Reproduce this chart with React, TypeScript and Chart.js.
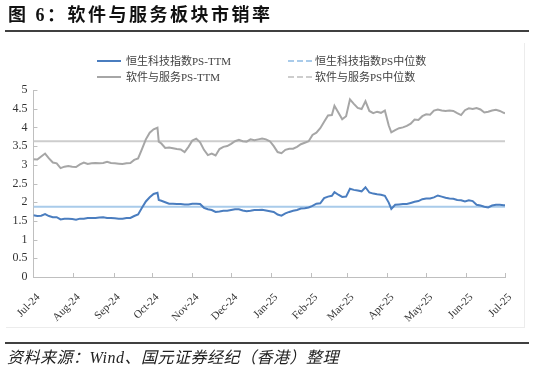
import React, { useEffect, useRef } from "react";
import { Chart, registerables } from "chart.js";

Chart.register(...registerables);

const dates: string[] = [
  "2024-07-01","2024-07-04","2024-07-07","2024-07-10","2024-07-13","2024-07-16","2024-07-19","2024-07-22","2024-07-25","2024-07-28",
  "2024-07-31","2024-08-03","2024-08-06","2024-08-09","2024-08-12","2024-08-15","2024-08-18","2024-08-21","2024-08-24","2024-08-27",
  "2024-08-30","2024-09-02","2024-09-05","2024-09-08","2024-09-11","2024-09-14","2024-09-17","2024-09-20","2024-09-23","2024-09-26",
  "2024-09-29","2024-10-02","2024-10-05","2024-10-06","2024-10-08","2024-10-11","2024-10-14","2024-10-17","2024-10-20","2024-10-23",
  "2024-10-26","2024-10-29","2024-11-01","2024-11-04","2024-11-07","2024-11-10","2024-11-13","2024-11-16","2024-11-19","2024-11-22",
  "2024-11-25","2024-11-28","2024-12-01","2024-12-04","2024-12-07","2024-12-10","2024-12-13","2024-12-16","2024-12-19","2024-12-22",
  "2024-12-25","2024-12-28","2024-12-31","2025-01-03","2025-01-06","2025-01-09","2025-01-12","2025-01-15","2025-01-18","2025-01-21",
  "2025-01-24","2025-01-27","2025-01-30","2025-02-02","2025-02-05","2025-02-08","2025-02-11","2025-02-14","2025-02-17","2025-02-19",
  "2025-02-22","2025-02-25","2025-02-28","2025-03-03","2025-03-06","2025-03-09","2025-03-12","2025-03-15","2025-03-18","2025-03-21",
  "2025-03-24","2025-03-27","2025-03-30","2025-04-02","2025-04-04","2025-04-07","2025-04-10","2025-04-13","2025-04-16","2025-04-19",
  "2025-04-22","2025-04-25","2025-04-28","2025-05-01","2025-05-04","2025-05-07","2025-05-10","2025-05-13","2025-05-16","2025-05-19",
  "2025-05-22","2025-05-25","2025-05-28","2025-05-31","2025-06-03","2025-06-06","2025-06-09","2025-06-12","2025-06-15","2025-06-18",
  "2025-06-21","2025-06-24","2025-06-27","2025-06-30","2025-07-01"
];

// 恒生科技指数PS-TTM
const hsTechPS: number[] = [
  1.65,1.63,1.64,1.68,1.63,1.60,1.60,1.54,1.56,1.56,
  1.55,1.53,1.56,1.56,1.58,1.58,1.58,1.59,1.60,1.58,
  1.58,1.57,1.56,1.56,1.58,1.58,1.63,1.67,1.85,2.02,
  2.13,2.22,2.25,2.06,2.04,2.00,1.96,1.96,1.95,1.95,
  1.94,1.94,1.96,1.96,1.95,1.85,1.81,1.79,1.74,1.75,
  1.77,1.77,1.79,1.81,1.81,1.78,1.76,1.77,1.79,1.79,
  1.80,1.78,1.76,1.74,1.67,1.64,1.70,1.74,1.77,1.79,
  1.83,1.84,1.86,1.90,1.96,1.97,2.11,2.15,2.17,2.27,
  2.20,2.14,2.15,2.36,2.33,2.31,2.29,2.40,2.26,2.23,
  2.21,2.20,2.17,1.99,1.82,1.93,1.94,1.95,1.95,1.98,
  2.01,2.03,2.08,2.10,2.10,2.13,2.18,2.15,2.12,2.10,
  2.09,2.06,2.05,2.02,2.05,2.03,1.93,1.91,1.88,1.86,
  1.91,1.93,1.93,1.92,1.92
];

// 软件与服务PS-TTM
const softwarePS: number[] = [
  3.15,3.14,3.22,3.30,3.17,3.06,3.04,2.91,2.95,2.97,
  2.95,2.94,3.01,3.06,3.02,3.04,3.05,3.04,3.05,3.08,
  3.05,3.04,3.03,3.02,3.04,3.05,3.13,3.17,3.42,3.68,
  3.86,3.95,3.99,3.62,3.57,3.45,3.46,3.44,3.42,3.41,
  3.34,3.48,3.65,3.70,3.60,3.40,3.26,3.30,3.25,3.42,
  3.48,3.50,3.56,3.63,3.67,3.63,3.62,3.68,3.66,3.68,
  3.70,3.68,3.63,3.50,3.34,3.31,3.40,3.43,3.43,3.48,
  3.55,3.59,3.63,3.80,3.86,3.98,4.15,4.32,4.33,4.58,
  4.40,4.22,4.30,4.75,4.63,4.52,4.49,4.70,4.44,4.38,
  4.42,4.39,4.45,4.05,3.87,3.93,3.98,4.00,4.04,4.10,
  4.21,4.20,4.30,4.35,4.34,4.45,4.48,4.45,4.44,4.45,
  4.44,4.38,4.33,4.46,4.51,4.49,4.52,4.48,4.40,4.42,
  4.45,4.47,4.44,4.39,4.38
];

const hsTechMedian = 1.88;
const softwareMedian = 3.63;

const monthTicks: string[] = [
  "2024-07-01","2024-08-01","2024-09-01","2024-10-01","2024-11-01","2024-12-01","2025-01-01",
  "2025-02-01","2025-03-01","2025-04-01","2025-05-01","2025-06-01","2025-07-01"
];
const monthLabels: string[] = [
  "Jul-24","Aug-24","Sep-24","Oct-24","Nov-24","Dec-24","Jan-25",
  "Feb-25","Mar-25","Apr-25","May-25","Jun-25","Jul-25"
];

const seriesNames: string[] = ["恒生科技指数PS-TTM", "软件与服务PS-TTM", "恒生科技指数PS中位数", "软件与服务PS中位数"];

const BLUE = "#4a7dbf";
const GRAY = "#a6a6a6";
const LIGHT_BLUE = "#a9cbea";
const LIGHT_GRAY = "#cdcdcd";
const AXIS = "#bfbfbf";

const SERIF = "'Liberation Serif', 'Noto Sans CJK SC', serif";

function dayIndex(s: string): number {
  const [y, m, d] = s.split("-").map(Number);
  return Math.round((Date.UTC(y, m - 1, d) - Date.UTC(2024, 6, 1)) / 86400000);
}

const insideTicks = {
  id: "insideTicks",
  afterDraw(chart: any) {
    const { ctx, scales } = chart;
    const xs = scales.x;
    const ys = scales.y;
    ctx.save();
    ctx.strokeStyle = AXIS;
    ctx.lineWidth = 1;
    ctx.beginPath();
    ys.ticks.forEach((t: any) => {
      const py = Math.round(ys.getPixelForValue(t.value)) + 0.5;
      ctx.moveTo(xs.left, py);
      ctx.lineTo(xs.left + 4, py);
    });
    xs.ticks.forEach((t: any) => {
      const px = Math.round(xs.getPixelForValue(t.value)) + 0.5;
      ctx.moveTo(px, ys.bottom);
      ctx.lineTo(px, ys.bottom - 4);
    });
    ctx.stroke();
    ctx.restore();
  },
};

export default function App() {
  const ref = useRef<HTMLCanvasElement>(null);

  useEffect(() => {
    if (!ref.current) return;
    const xs = dates.map(dayIndex);
    const tickDays = monthTicks.map(dayIndex);
    const xMin = tickDays[0];
    const xMax = tickDays[tickDays.length - 1];
    const chart = new Chart(ref.current, {
      type: "line",
      data: {
        datasets: [
          {
            label: seriesNames[0],
            data: xs.map((x, i) => ({ x, y: hsTechPS[i] })),
            borderColor: BLUE,
            borderWidth: 2,
            pointRadius: 0,
            tension: 0,
          },
          {
            label: seriesNames[1],
            data: xs.map((x, i) => ({ x, y: softwarePS[i] })),
            borderColor: GRAY,
            borderWidth: 2,
            pointRadius: 0,
            tension: 0,
          },
          {
            label: seriesNames[2],
            data: [{ x: xMin, y: hsTechMedian }, { x: xMax, y: hsTechMedian }],
            borderColor: LIGHT_BLUE,
            borderWidth: 2,
            pointRadius: 0,
          },
          {
            label: seriesNames[3],
            data: [{ x: xMin, y: softwareMedian }, { x: xMax, y: softwareMedian }],
            borderColor: LIGHT_GRAY,
            borderWidth: 2,
            pointRadius: 0,
          },
        ],
      },
      options: {
        animation: false,
        responsive: false,
        layout: { padding: { top: 90, left: 0, right: 28, bottom: 0 } },
        plugins: { legend: { display: false }, tooltip: { enabled: false } },
        scales: {
          x: {
            type: "linear",
            min: xMin,
            max: xMax,
            grid: { display: false, drawTicks: false },
            border: { display: true, color: AXIS, width: 1 },
            afterBuildTicks: (scale: any) => {
              scale.ticks = tickDays.map((v) => ({ value: v }));
            },
            afterFit: (scale: any) => {
              scale.height = 96;
            },
            ticks: {
              autoSkip: false,
              maxRotation: 45,
              minRotation: 45,
              padding: 14,
              labelOffset: 5,
              color: "#333",
              font: { family: SERIF, size: 11 },
              callback: (value: any) => {
                const i = tickDays.indexOf(Number(value));
                return i >= 0 ? monthLabels[i] : "";
              },
            },
          },
          y: {
            min: 0,
            max: 5,
            grid: { display: false, drawTicks: false },
            border: { display: true, color: AXIS, width: 1 },
            afterFit: (scale: any) => {
              scale.width = 33;
            },
            ticks: {
              stepSize: 0.5,
              padding: 6,
              color: "#333",
              font: { family: SERIF, size: 12 },
              callback: (value: any) => String(Number(value)),
            },
          },
        },
      },
      plugins: [insideTicks],
    });
    return () => chart.destroy();
  }, []);

  const legendText: React.CSSProperties = {
    position: "absolute",
    fontFamily: SERIF,
    fontSize: 11,
    color: "#404040",
    lineHeight: "14px",
    whiteSpace: "nowrap",
  };
  const sample = (left: number, top: number, color: string, dashed: boolean): React.CSSProperties => ({
    position: "absolute",
    left,
    top,
    width: 24,
    height: 0,
    borderTop: `2px ${dashed ? "dashed" : "solid"} ${color}`,
  });

  return (
    <div style={{ position: "absolute", left: 0, top: 0, width: 533, height: 373, background: "#fff", overflow: "hidden" }}>
      <canvas ref={ref} width={533} height={373} style={{ position: "absolute", left: 0, top: 0 }} />
      <div
        style={{
          position: "absolute",
          left: 8,
          top: 4,
          fontFamily: SERIF,
          fontWeight: "bold",
          fontSize: 18,
          letterSpacing: 2.5,
          lineHeight: "22px",
          color: "#111",
          whiteSpace: "nowrap",
        }}
      >
        图 6：软件与服务板块市销率
      </div>
      <div style={{ position: "absolute", left: 5, top: 30, width: 524, height: 2, background: "#404040" }} />
      <div style={{ position: "absolute", left: 524, top: 43, width: 1, height: 284, background: "#ececec" }} />
      <div style={{ position: "absolute", left: 6, top: 327, width: 519, height: 1, background: "#ececec" }} />

      <div style={sample(97, 60, BLUE, false)} />
      <div style={{ ...legendText, left: 126, top: 54 }}>{seriesNames[0]}</div>
      <div style={sample(288, 60, LIGHT_BLUE, true)} />
      <div style={{ ...legendText, left: 315, top: 54 }}>{seriesNames[2]}</div>
      <div style={sample(97, 76, GRAY, false)} />
      <div style={{ ...legendText, left: 126, top: 70 }}>{seriesNames[1]}</div>
      <div style={sample(288, 76, LIGHT_GRAY, true)} />
      <div style={{ ...legendText, left: 315, top: 70 }}>{seriesNames[3]}</div>

      <div style={{ position: "absolute", left: 5, top: 342, width: 524, height: 2, background: "#404040" }} />
      <div
        style={{
          position: "absolute",
          left: 7,
          top: 348,
          fontFamily: SERIF,
          fontStyle: "italic",
          fontSize: 16,
          letterSpacing: 0.5,
          lineHeight: "19px",
          color: "#222",
          whiteSpace: "nowrap",
        }}
      >
        资料来源：Wind、国元证券经纪（香港）整理
      </div>
    </div>
  );
}
